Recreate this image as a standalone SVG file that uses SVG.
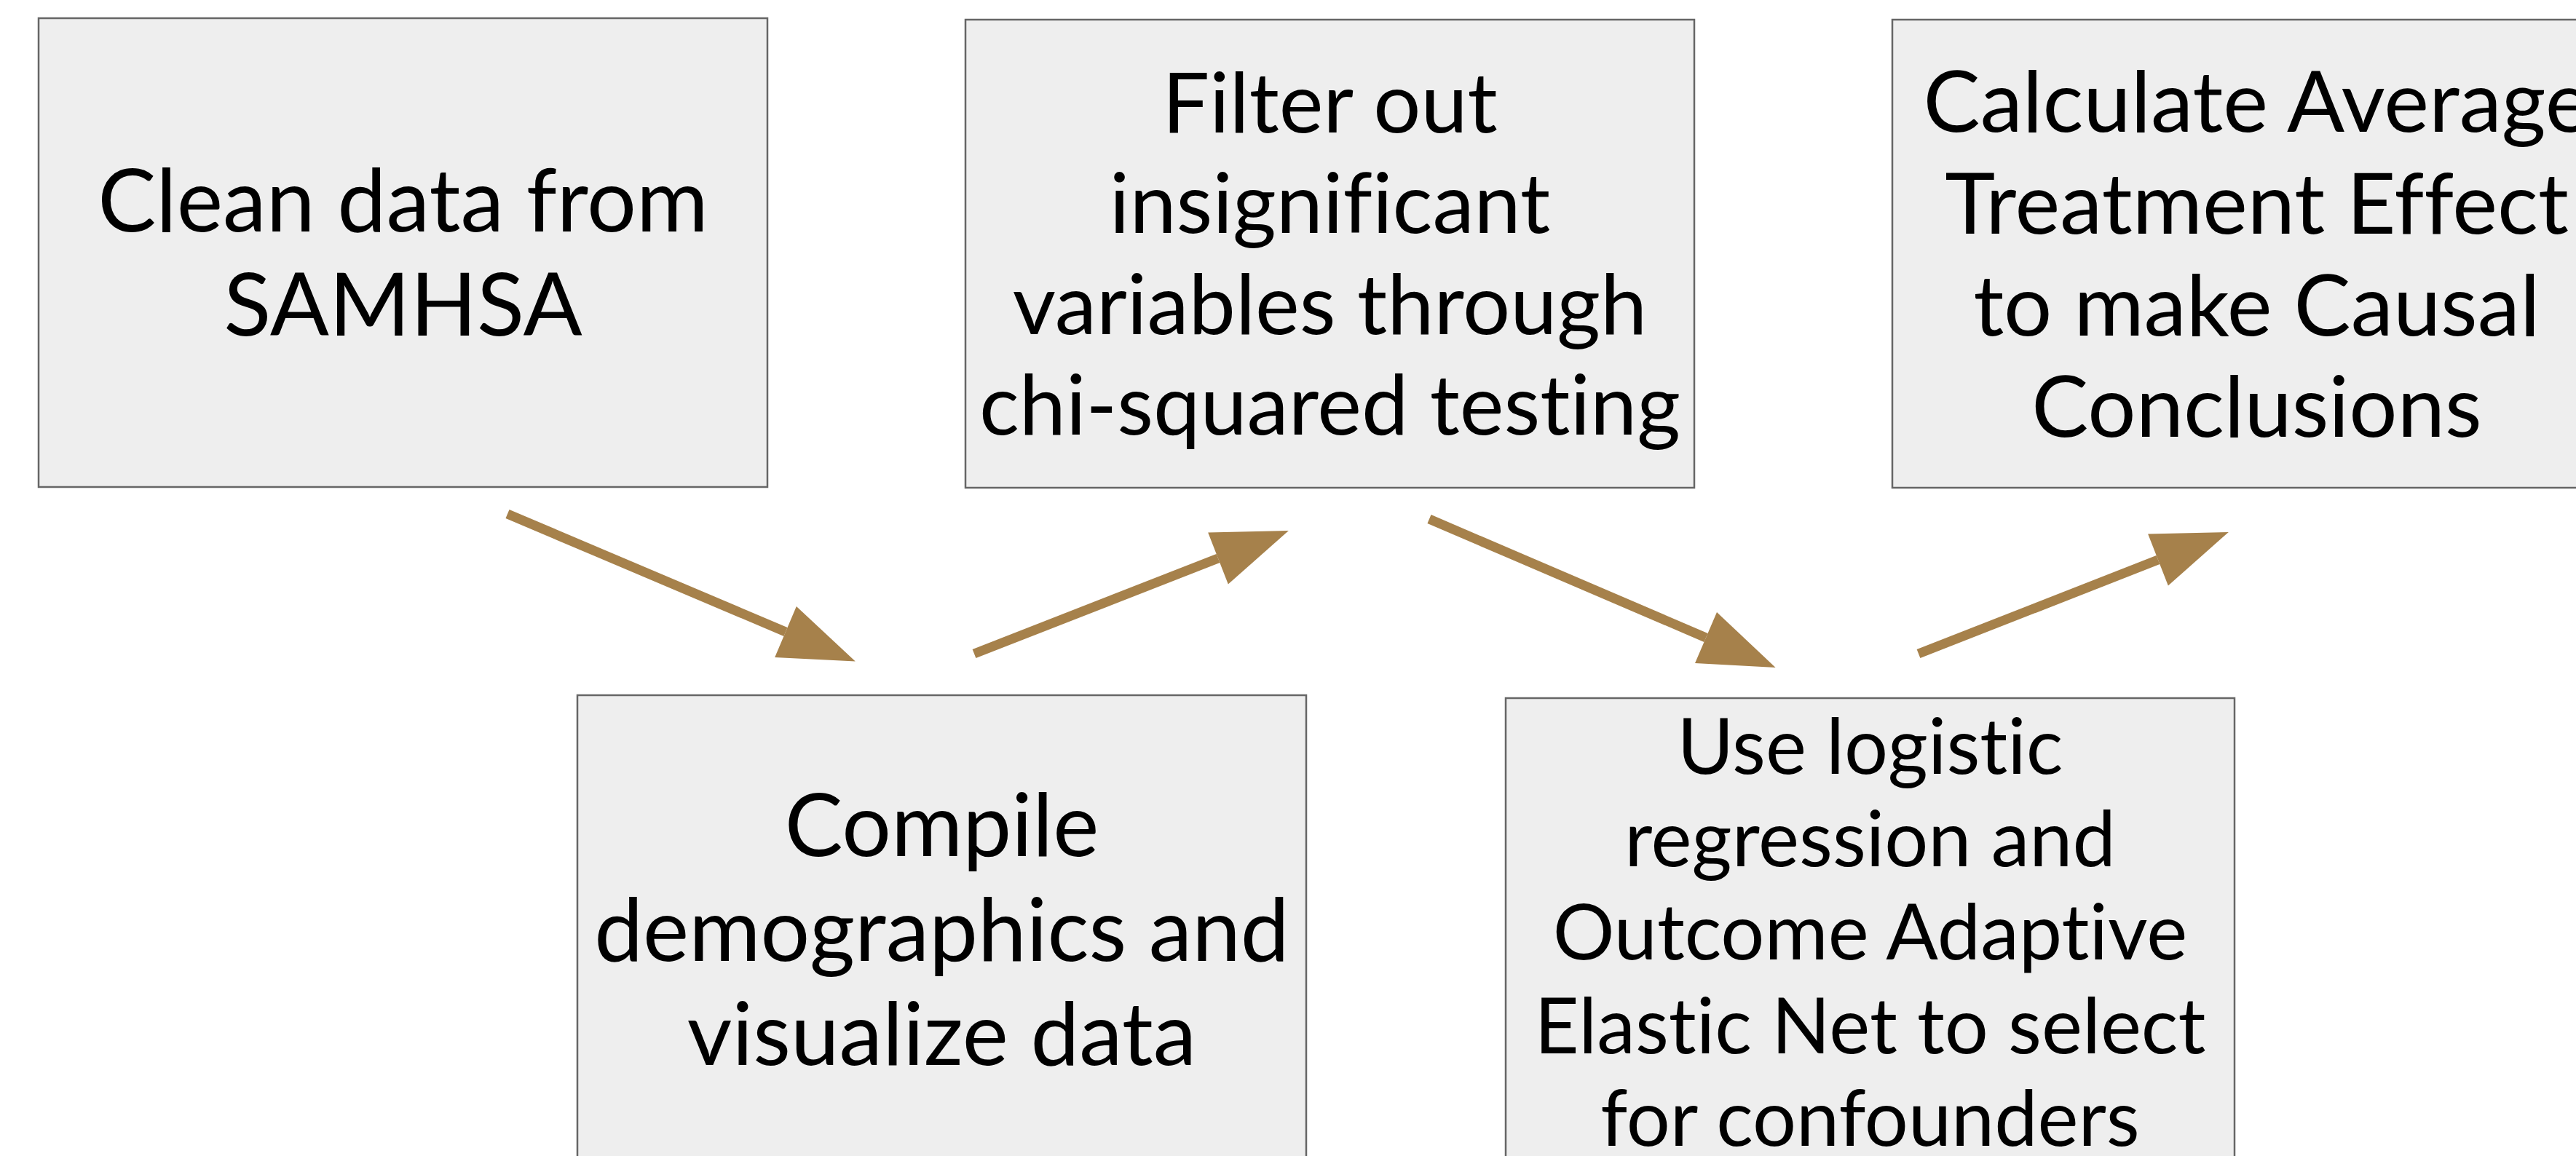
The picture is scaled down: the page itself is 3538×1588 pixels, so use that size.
<svg xmlns="http://www.w3.org/2000/svg" width="3538" height="1588" viewBox="0 0 3538 1588">
<style>
.box{fill:#eeeeee;stroke:#666666;stroke-width:2.5}
.t{font-family:Lato,"Open Sans","Liberation Sans",sans-serif;font-size:120px;fill:#000000;text-anchor:middle;font-variant-ligatures:none;font-feature-settings:"liga" 0,"clig" 0}
.f2{font-size:115px}
.f3{font-size:117px}
.f4{font-size:119.5px}
.f5{font-size:106px}
.c{stroke:#a6814b;stroke-width:13;fill:none;marker-end:url(#ah)}
</style>
<defs>
<marker id="ah" markerUnits="userSpaceOnUse" markerWidth="110" markerHeight="80" viewBox="0 -40 110 80" refX="0" refY="0" orient="auto" overflow="visible">
<path d="M0,-38 L104,0 L0,38 z" fill="#a6814b"/>
</marker>
</defs>
<rect width="3538" height="1588" fill="#ffffff"/>
<g id="connectors">
<line class="c" x1="697" y1="706" x2="1079" y2="868"/>
<line class="c" x1="1338" y1="898" x2="1673" y2="767"/>
<line class="c" x1="1963" y1="713" x2="2343" y2="876"/>
<line class="c" x1="2635" y1="898" x2="2964" y2="769"/>
</g>
<g id="node1">
<rect class="box" x="53" y="25" width="1001" height="644"/>
<text class="t" x="553.5" y="318">Clean data from</text>
<text class="t" x="553.5" y="461">SAMHSA</text>
</g>
<g id="node2">
<rect class="box" x="1326" y="27" width="1001" height="643"/>
<text class="t f2" x="1826.5" y="182">Filter out</text>
<text class="t f2" x="1826.5" y="320">insignificant</text>
<text class="t f2" x="1826.5" y="459">variables through</text>
<text class="t f2" x="1826.5" y="597">chi-squared testing</text>
</g>
<g id="node3">
<rect class="box" x="2599" y="27" width="1001" height="643"/>
<text class="t f3" x="3099.5" y="181">Calculate Average</text>
<text class="t f3" x="3099.5" y="321">Treatment Effect</text>
<text class="t f3" x="3099.5" y="461">to make Causal</text>
<text class="t f3" x="3099.5" y="600">Conclusions</text>
</g>
<g id="node4">
<rect class="box" x="793" y="955" width="1001" height="700"/>
<text class="t f4" x="1293.5" y="1176">Compile</text>
<text class="t f4" x="1293.5" y="1320">demographics and</text>
<text class="t f4" x="1293.5" y="1463">visualize data</text>
</g>
<g id="node5">
<rect class="box" x="2068" y="959" width="1001" height="700"/>
<text class="t f5" x="2568.5" y="1063">Use logistic</text>
<text class="t f5" x="2568.5" y="1190">regression and</text>
<text class="t f5" x="2568.5" y="1318">Outcome Adaptive</text>
<text class="t f5" x="2568.5" y="1447">Elastic Net to select</text>
<text class="t f5" x="2568.5" y="1574">for confounders</text>
</g>
</svg>
